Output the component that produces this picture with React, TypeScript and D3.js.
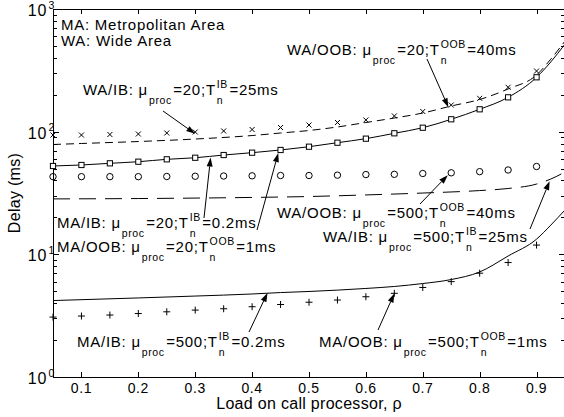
import React, { useEffect, useRef } from 'react';
import * as d3 from 'd3';

const W = 564;
const H = 417;

// ---- data ----
const rhoSim = [0.05, 0.1, 0.15, 0.2, 0.25, 0.3, 0.35, 0.4, 0.45, 0.5, 0.55, 0.6, 0.65, 0.7, 0.75, 0.8, 0.85, 0.9];
// x markers
const crossValues = [93.9, 93.9, 94.8, 95.7, 97.5, 99.4, 101.3, 104.1, 108.1, 113.3, 118.8, 124.5, 134.3, 146, 164.9, 187, 230, 312];
// square markers
const squareValues = [52.5, 53.5, 55.2, 56.9, 59.5, 61.3, 64.5, 67.4, 70.9, 75.4, 81.3, 87.7, 97.0, 107.7, 126.2, 152.2, 190.5, 277.5];
// circle markers
const circleValues = [42.96, 42.96, 42.96, 42.96, 43.1, 43.3, 43.5, 43.65, 43.9, 43.9, 44.2, 44.7, 44.9, 45.6, 46.2, 47.2, 48.7, 52.0];
// plus markers
const plusValues = [3.08, 3.14, 3.2, 3.29, 3.4, 3.51, 3.6, 3.74, 3.9, 4.07, 4.24, 4.51, 4.81, 5.37, 5.99, 7.02, 8.57, 11.9];

// upper dashed curve
const dashedRho = [0.05, 0.1, 0.2, 0.3, 0.4, 0.45, 0.5, 0.55, 0.6, 0.65, 0.7, 0.75, 0.8, 0.85, 0.9, 0.925, 0.95];
const dashedValues = [78.6, 80.1, 83.1, 87.1, 93.0, 97.5, 102.2, 109.2, 118.8, 129.2, 141.9, 161.9, 182.9, 222.9, 289.7, 390, 548];
// solid curve through squares
const squareLineRho = [0.05, 0.1, 0.15, 0.2, 0.25, 0.3, 0.35, 0.4, 0.45, 0.5, 0.55, 0.6, 0.65, 0.7, 0.75, 0.8, 0.85, 0.9, 0.925, 0.95];
const squareLineValues = [52.5, 53.5, 55.2, 56.9, 59.5, 61.3, 64.5, 67.4, 70.9, 75.4, 81.3, 87.7, 97.0, 107.7, 126.2, 152.2, 190.5, 277.5, 370, 518];
// lower long-dashed curve
const longDashRho = [0.05, 0.2, 0.4, 0.5, 0.6, 0.7, 0.8, 0.85, 0.9, 0.925, 0.95];
const longDashValues = [28.3, 28.5, 29.1, 29.6, 30.5, 31.6, 33.1, 34.4, 37.4, 41.1, 46.9];
// lower solid curve
const lowSolidRho = [0.05, 0.2, 0.3, 0.4, 0.45, 0.5, 0.6, 0.65, 0.7, 0.75, 0.8, 0.85, 0.9, 0.925, 0.95];
const lowSolidValues = [4.2, 4.41, 4.57, 4.75, 4.88, 4.98, 5.27, 5.47, 5.78, 6.23, 7.18, 9.69, 13.3, 17.3, 23.0];

const xTicks = [0.1, 0.2, 0.3, 0.4, 0.5, 0.6, 0.7, 0.8, 0.9];
const xTickLabels = ['0.1', '0.2', '0.3', '0.4', '0.5', '0.6', '0.7', '0.8', '0.9'];
const yTicks = [1, 10, 100, 1000];
const yTickExps = ['0', '1', '2', '3'];

const xLabel = 'Load on call processor, ρ';
const yLabel = 'Delay (ms)';

type Piece = { t?: string; sub?: string; sup?: string };

const notes: { x: number; y: number; pieces: Piece[] }[] = [
  { x: 61, y: 30, pieces: [{ t: 'MA: Metropolitan Area' }] },
  { x: 61, y: 46, pieces: [{ t: 'WA: Wide Area' }] },
  { x: 83, y: 95, pieces: [{ t: 'WA/IB: μ' }, { sub: 'proc' }, { t: '=20;T' }, { sub: 'n', sup: 'IB' }, { t: '=25ms' }] },
  { x: 287, y: 55, pieces: [{ t: 'WA/OOB: μ' }, { sub: 'proc' }, { t: '=20;T' }, { sub: 'n', sup: 'OOB' }, { t: '=40ms' }] },
  { x: 57, y: 228, pieces: [{ t: 'MA/IB: μ' }, { sub: 'proc' }, { t: '=20;T' }, { sub: 'n', sup: 'IB' }, { t: '=0.2ms' }] },
  { x: 57, y: 252, pieces: [{ t: 'MA/OOB: μ' }, { sub: 'proc' }, { t: '=20;T' }, { sub: 'n', sup: 'OOB' }, { t: '=1ms' }] },
  { x: 277, y: 218, pieces: [{ t: 'WA/OOB: μ' }, { sub: 'proc' }, { t: '=500;T' }, { sub: 'n', sup: 'OOB' }, { t: '=40ms' }] },
  { x: 323, y: 242, pieces: [{ t: 'WA/IB: μ' }, { sub: 'proc' }, { t: '=500;T' }, { sub: 'n', sup: 'IB' }, { t: '=25ms' }] },
  { x: 77, y: 347, pieces: [{ t: 'MA/IB: μ' }, { sub: 'proc' }, { t: '=500;T' }, { sub: 'n', sup: 'IB' }, { t: '=0.2ms' }] },
  { x: 319, y: 347, pieces: [{ t: 'MA/OOB: μ' }, { sub: 'proc' }, { t: '=500;T' }, { sub: 'n', sup: 'OOB' }, { t: '=1ms' }] },
];

// arrows: tail in pixels, tip in data space (rho, delay)
const arrows = [
  { tx: 163, ty: 111, rho: 0.3, d: 96 },
  { tx: 427, ty: 59, rho: 0.745, d: 158 },
  { tx: 204, ty: 218, rho: 0.327, d: 61.5 },
  { tx: 257, ty: 230, rho: 0.446, d: 67 },
  { tx: 420, ty: 204, rho: 0.744, d: 44.2 },
  { tx: 530, ty: 229, rho: 0.923, d: 39.5 },
  { tx: 249, ty: 332, rho: 0.427, d: 4.85 },
  { tx: 378, ty: 330, rho: 0.65, d: 4.8 },
];

const FONT = '"Liberation Sans", Arial, Helvetica, sans-serif';

export default function App() {
  const ref = useRef<SVGSVGElement>(null);

  useEffect(() => {
    const svg = d3.select(ref.current);
    svg.selectAll('*').remove();

    const left = 53, right = 565, top = 9, bottom = 377;
    const x = d3.scaleLinear().domain([0.05, 0.95]).range([left, right]);
    const y = d3.scaleLog().domain([1, 1000]).range([bottom, top]);

    const g = svg.append('g').style('font-family', FONT);

    // frame
    const frame = g.append('g').attr('stroke', '#000').attr('stroke-width', 1).attr('shape-rendering', 'crispEdges');
    frame.append('line').attr('x1', left + 0.5).attr('x2', left + 0.5).attr('y1', top).attr('y2', bottom + 0.5);
    frame.append('line').attr('x1', left).attr('x2', right).attr('y1', bottom + 0.5).attr('y2', bottom + 0.5);
    frame.append('line').attr('x1', left).attr('x2', right).attr('y1', top + 0.5).attr('y2', top + 0.5);
    frame.append('line').attr('x1', right - 0.5).attr('x2', right - 0.5).attr('y1', top).attr('y2', bottom);

    // x ticks (bottom and top, inward)
    xTicks.forEach((t, i) => {
      const px = Math.round(x(t)) + 0.5;
      frame.append('line').attr('x1', px).attr('x2', px).attr('y1', bottom).attr('y2', bottom - 5);
      frame.append('line').attr('x1', px).attr('x2', px).attr('y1', top).attr('y2', top + 5);
      g.append('text').attr('x', x(t)).attr('y', 393).attr('text-anchor', 'middle')
        .style('font-size', '14px').style('letter-spacing', '0.6px').text(xTickLabels[i]);
    });

    // y ticks (major + minor, both sides)
    for (let e = 0; e < 3; e++) {
      for (let k = 2; k <= 9; k++) {
        const py = Math.round(y(k * Math.pow(10, e))) + 0.5;
        frame.append('line').attr('x1', left).attr('x2', left + 4).attr('y1', py).attr('y2', py);
        frame.append('line').attr('x1', right).attr('x2', right - 4).attr('y1', py).attr('y2', py);
      }
    }
    yTicks.forEach((t, i) => {
      const py = Math.round(y(t)) + 0.5;
      frame.append('line').attr('x1', left).attr('x2', left + 6).attr('y1', py).attr('y2', py);
      frame.append('line').attr('x1', right).attr('x2', right - 6).attr('y1', py).attr('y2', py);
      g.append('text').attr('x', 47.5).attr('y', y(t) + 7).attr('text-anchor', 'end')
        .style('font-size', '16px').style('letter-spacing', '1px').text('10');
      g.append('text').attr('x', 48.5).attr('y', y(t) - 0.5)
        .style('font-size', '10.5px').text(yTickExps[i]);
    });

    // axis labels
    g.append('text').attr('x', (left + right) / 2).attr('y', 408.5).attr('text-anchor', 'middle')
      .style('font-size', '16px').style('letter-spacing', '0.3px').text(xLabel);
    g.append('text').attr('transform', `translate(20,${(top + bottom) / 2}) rotate(-90)`).attr('text-anchor', 'middle')
      .style('font-size', '16px').style('letter-spacing', '0.3px').text(yLabel);

    // lines
    const line = (xs: number[], vs: number[]) =>
      d3.line<number>().x((_, i) => x(xs[i])).y((v) => y(v)).curve(d3.curveMonotoneX)(vs);

    const lines = g.append('g').attr('fill', 'none').attr('stroke', '#000').attr('stroke-width', 1);
    lines.append('path').attr('d', line(dashedRho, dashedValues)).attr('stroke-dasharray', '8,5');
    lines.append('path').attr('d', line(squareLineRho, squareLineValues));
    lines.append('path').attr('d', line(longDashRho, longDashValues)).attr('stroke-dasharray', '17,9');
    lines.append('path').attr('d', line(lowSolidRho, lowSolidValues));

    // markers
    const mk = g.append('g').attr('fill', 'none').attr('stroke', '#000').attr('stroke-width', 1);
    rhoSim.forEach((r, i) => {
      const px = x(r);
      // crosses
      let py = y(crossValues[i]);
      mk.append('path').attr('d', `M${px - 2.5},${py - 2.5}L${px + 2.5},${py + 2.5}M${px - 2.5},${py + 2.5}L${px + 2.5},${py - 2.5}`);
      // squares
      py = y(squareValues[i]);
      mk.append('rect').attr('x', px - 2.6).attr('y', py - 2.6).attr('width', 5.2).attr('height', 5.2).attr('fill', '#fff');
      // circles
      py = y(circleValues[i]);
      mk.append('circle').attr('cx', px).attr('cy', py).attr('r', 3.2);
      // plus
      py = y(plusValues[i]);
      mk.append('path').attr('d', `M${px - 3.5},${py}L${px + 3.5},${py}M${px},${py - 3.5}L${px},${py + 3.5}`);
    });

    // annotations
    const ann = g.append('g').attr('fill', '#000');
    notes.forEach((n) => {
      let cx = n.x;
      n.pieces.forEach((p) => {
        if (p.t) {
          const el = ann.append('text').attr('x', cx).attr('y', n.y)
            .style('font-size', '15px').style('letter-spacing', '0.75px').text(p.t);
          cx += (el.node() as SVGTextElement).getComputedTextLength() + 0.5;
        } else {
          let w = 0;
          if (p.sub) {
            const el = ann.append('text').attr('x', cx + 0.5).attr('y', n.y + 9)
              .style('font-size', '10.5px').style('letter-spacing', '0.6px').text(p.sub);
            w = Math.max(w, (el.node() as SVGTextElement).getComputedTextLength());
          }
          if (p.sup) {
            const el = ann.append('text').attr('x', cx + 0.5).attr('y', n.y - 7)
              .style('font-size', '10.5px').style('letter-spacing', '0.6px').text(p.sup);
            w = Math.max(w, (el.node() as SVGTextElement).getComputedTextLength());
          }
          cx += w + 2;
        }
      });
    });

    // arrows
    const ar = g.append('g');
    arrows.forEach((a) => {
      const hx = x(a.rho), hy = y(a.d);
      const ang = Math.atan2(hy - a.ty, hx - a.tx);
      const L = 9, Wd = 3;
      const bx = hx - L * Math.cos(ang), by = hy - L * Math.sin(ang);
      ar.append('line').attr('x1', a.tx).attr('y1', a.ty).attr('x2', bx).attr('y2', by)
        .attr('stroke', '#000').attr('stroke-width', 1);
      const p1 = [bx + Wd * Math.sin(ang), by - Wd * Math.cos(ang)];
      const p2 = [bx - Wd * Math.sin(ang), by + Wd * Math.cos(ang)];
      ar.append('path').attr('d', `M${hx},${hy}L${p1[0]},${p1[1]}L${p2[0]},${p2[1]}Z`).attr('fill', '#000');
    });
  }, []);

  return (
    <svg ref={ref} width={W} height={H}
      style={{ position: 'absolute', left: 0, top: 0, background: '#fff' }} />
  );
}
